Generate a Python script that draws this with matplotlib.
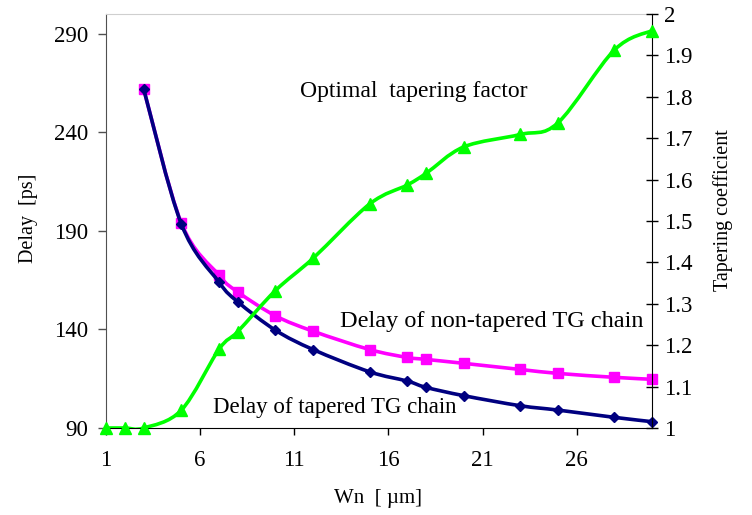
import numpy as np
import matplotlib
matplotlib.use("Agg")
import matplotlib.pyplot as plt
from matplotlib.path import Path
from matplotlib.patches import PathPatch
from matplotlib.ticker import FuncFormatter

plt.rcParams['font.family'] = ['Liberation Serif', 'DejaVu Serif']

# data
wn = [1, 2, 3, 5, 7, 8, 10, 12, 15, 17, 18, 20, 23, 25, 28, 30]
wn_delay = [3, 5, 7, 8, 10, 12, 15, 17, 18, 20, 23, 25, 28, 30]
delay_tapered = [262, 193.5, 164, 154, 139.6, 129.8, 118.5, 113.8, 110.6, 106.4, 101.3, 99.1, 95.4, 93.2]
delay_non_tapered = [262, 194, 167.5, 159, 146.9, 139.1, 129.8, 125.8, 124.8, 122.8, 119.7, 117.7, 115.7, 114.7]
taper_factor = [1.0, 1.0, 1.0, 1.043, 1.19, 1.233, 1.332, 1.41, 1.541, 1.587, 1.615, 1.679, 1.709, 1.737, 1.913, 1.96]


def smooth_path(xs, ys):
    # Catmull-Rom style bezier through the given points (like Excel's smoothed line)
    p = np.column_stack([xs, ys]).astype(float)
    n = len(p)
    verts = [p[0]]
    codes = [Path.MOVETO]
    for i in range(n - 1):
        p0 = p[i - 1] if i > 0 else p[i]
        p1 = p[i]
        p2 = p[i + 1]
        p3 = p[i + 2] if i + 2 < n else p[i + 1]
        c1 = p1 + (p2 - p0) / 6.0
        c2 = p2 - (p3 - p1) / 6.0
        verts += [c1, c2, p2]
        codes += [Path.CURVE4] * 3
    return Path(verts, codes)


def draw_series(ax, xs, ys, color, marker, ms, z):
    ax.add_patch(PathPatch(smooth_path(xs, ys), facecolor='none', edgecolor=color,
                           lw=2.6, zorder=z, capstyle='round', joinstyle='round'))
    ax.plot(xs, ys, linestyle='none', marker=marker, ms=ms, color=color,
            markeredgecolor=color, zorder=z + 0.5, clip_on=False)


fig = plt.figure(figsize=(7.52, 5.15), dpi=100)
ax = fig.add_axes([106 / 752, 1 - 428 / 515, 546 / 752, 414 / 515])
ax2 = ax.twinx()

draw_series(ax, wn_delay, delay_non_tapered, '#ff00ff', 's', 7.5, 3)
draw_series(ax, wn_delay, delay_tapered, '#000080', 'D', 5.5, 4)
draw_series(ax2, wn, taper_factor, '#00ff00', '^', 8, 3)

ax.set_xlim(1, 30)
ax.set_ylim(90, 300)
ax2.set_ylim(1, 2)
ax.set_xticks([1, 6, 11, 16, 21, 26])
ax.set_yticks([90, 140, 190, 240, 290])
ax2.set_yticks(np.arange(1.0, 2.01, 0.1))
ax2.yaxis.set_major_formatter(FuncFormatter(lambda v, pos: '%g' % round(v, 1)))

for a in (ax, ax2):
    for s in a.spines.values():
        s.set_visible(False)
ax.spines['left'].set_visible(True)
ax.spines['left'].set_color('#505050')
ax.spines['bottom'].set_visible(True)
ax.spines['bottom'].set_color('black')
ax.spines['top'].set_visible(True)
ax.spines['top'].set_color('#cfcfcf')
ax2.spines['right'].set_visible(True)
ax2.spines['right'].set_color('black')

ax.tick_params(axis='y', direction='out', length=6, width=1, colors='#505050',
               labelcolor='black', labelsize=16.5, pad=7)
ax.tick_params(axis='x', direction='out', length=5, width=1, labelsize=16.5, pad=11)
ax2.tick_params(axis='y', direction='inout', length=9, width=1, labelsize=16.5, pad=4)

# axis titles
fig.text(28 / 752, 1 - 218 / 515, 'Delay  [ps]', rotation=90, fontsize=14.5,
         ha='center', va='center')
fig.text(723 / 752, 1 - 210 / 515, 'Tapering coefficient', rotation=90, fontsize=14.5,
         ha='center', va='center')
fig.text(378 / 752, 1 - 498 / 515, 'Wn  [ µm]', fontsize=15, ha='center', va='center')

# series labels
fig.text(300 / 752, 1 - 92 / 515, 'Optimal  tapering factor', fontsize=17, ha='left', va='center')
fig.text(340 / 752, 1 - 321 / 515, 'Delay of non-tapered TG chain', fontsize=17.5, ha='left', va='center')
fig.text(213 / 752, 1 - 408 / 515, 'Delay of tapered TG chain', fontsize=16.5, ha='left', va='center')

fig.savefig('out.png', dpi=100)
